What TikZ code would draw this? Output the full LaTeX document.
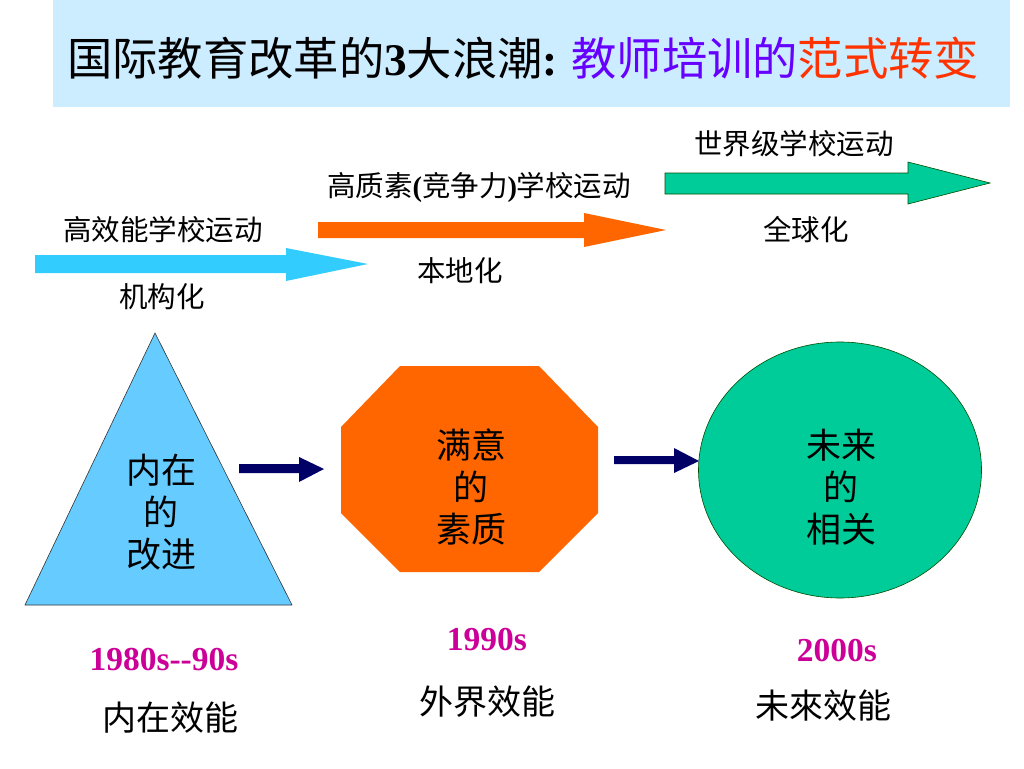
\documentclass[tikz,border=0pt]{standalone}
\usepackage{fontspec}
\setmainfont{Liberation Serif}
\newfontfamily\cjk{Noto Sans CJK SC}
\usetikzlibrary{shapes.geometric}
\definecolor{titlebg}{RGB}{204,236,255}
\definecolor{tpurple}{RGB}{102,0,255}
\definecolor{tred}{RGB}{255,51,0}
\definecolor{bluearr}{RGB}{51,204,255}
\definecolor{orangearr}{RGB}{255,102,0}
\definecolor{greenarr}{RGB}{0,204,153}
\definecolor{tribg}{RGB}{102,204,255}
\definecolor{navy}{RGB}{0,0,102}
\definecolor{magentatxt}{RGB}{204,0,153}
\begin{document}
\begin{tikzpicture}[x=1pt,y=-1pt,
  lbl/.style={inner sep=0pt, font=\fontsize{28.5}{32}\cjk},
  shapetxt/.style={inner sep=0pt, align=center, font=\fontsize{35}{42}\cjk},
  yeartxt/.style={inner sep=0pt, text=magentatxt, font=\fontsize{33.5}{38}\bfseries},
  efftxt/.style={inner sep=0pt, font=\fontsize{34}{38}\cjk},
  link/.style={fill=navy}]
\useasboundingbox (0,0) rectangle (1024,768);
% title bar
\fill[titlebg] (53,0) rectangle (1010,107);
\node[anchor=west, inner sep=0pt] (title) at (67,58)
  {\fontsize{45.3}{48}\cjk 国际教育改革的{\rmfamily\bfseries 3}大浪潮{\rmfamily\bfseries :} \textcolor{tpurple}{教师培训的}\textcolor{tred}{范式转变}};
% wave arrows
\fill[bluearr] (35,255) -- (286,255) -- (286,248) -- (368,264) -- (286,281) -- (286,273) -- (35,273) -- cycle;
\fill[orangearr] (318,222) -- (584,222) -- (584,213) -- (666,230) -- (584,247) -- (584,238) -- (318,238) -- cycle;
\draw[fill=greenarr, draw=black!70!green, line width=0.6pt] (665,173) -- (908,173) -- (908,162) -- (990,183) -- (908,204) -- (908,194) -- (665,194) -- cycle;
% wave labels
\node[lbl] (w1) at (163,230) {高效能学校运动};
\node[lbl] (w1b) at (162,297) {机构化};
\node[lbl] (w2) at (479,187) {高质素{\rmfamily\bfseries (}竞争力{\rmfamily\bfseries )}学校运动};
\node[lbl] (w2b) at (460,271) {本地化};
\node[lbl] (w3) at (794,144) {世界级学校运动};
\node[lbl] (w3b) at (806,230) {全球化};
% triangle
\draw[fill=tribg, draw=black!80, line width=0.6pt] (155,333) -- (292,605) -- (25,605) -- cycle;
\node[shapetxt] (tri) at (161,512) {内在\\的\\改进};
% octagon
\fill[orangearr] (400,366) -- (539,366) -- (598,427) -- (598,513) -- (539,572) -- (400,572) -- (341,513) -- (341,427) -- cycle;
\node[shapetxt] (oct) at (471,487) {满意\\的\\素质};
% ellipse
\node[ellipse, fill=greenarr, draw=black!70!green, line width=0.6pt, minimum width=283pt, minimum height=256pt, inner sep=0pt] (ell) at (840,470) {};
\node[shapetxt] (elltxt) at (841,487) {未来\\的\\相关};
% connecting arrows
\fill[link] (239,464) -- (299,464) -- (299,457) -- (324,469) -- (299,482) -- (299,473) -- (239,473) -- cycle;
\fill[link] (614,456) -- (674,456) -- (674,448) -- (699,461) -- (674,473) -- (674,464) -- (614,464) -- cycle;
% years
\node[yeartxt] (y1) at (164,660) {1980s-{}-90s};
\node[yeartxt] (y2) at (487,640) {1990s};
\node[yeartxt] (y3) at (837,651) {2000s};
% efficacy
\node[efftxt] (e1) at (170,718) {内在效能};
\node[efftxt] (e2) at (487,702) {外界效能};
\node[efftxt] (e3) at (823,706) {未來效能};
\end{tikzpicture}
\end{document}
